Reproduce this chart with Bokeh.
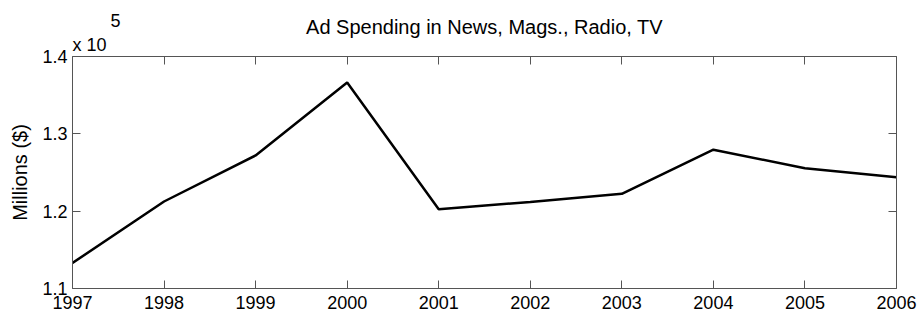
from bokeh.plotting import figure
from bokeh.models import Range1d, FixedTicker, LinearAxis, Label, ColumnDataSource
from bokeh.embed import file_html
from bokeh.resources import INLINE

years = [1997, 1998, 1999, 2000, 2001, 2002, 2003, 2004, 2005, 2006]
spending = [113300, 121250, 127200, 136650, 120250, 121200, 122250, 127950, 125550, 124400]

x_ticks = years
y_ticks = [110000, 120000, 130000, 140000]
y_tick_labels = ["1.1", "1.2", "1.3", "1.4"]

title_text = "Ad Spending in News, Mags., Radio, TV"
y_label = "Millions ($)"

FONT = "Liberation Sans"
AX = "#555555"

p = figure(width=921, height=320, output_backend="svg", toolbar_location=None,
           x_range=Range1d(1997, 2006), y_range=Range1d(110000, 140000),
           min_border_left=72, min_border_right=25, min_border_top=56, min_border_bottom=32)
p.background_fill_color = "white"
p.border_fill_color = "white"
p.outline_line_color = None
p.grid.visible = False

src = ColumnDataSource(dict(x=years, y=spending))
p.line("x", "y", source=src, line_color="black", line_width=2.5)

def style(ax):
    ax.axis_line_color = AX
    ax.major_tick_line_color = AX
    ax.minor_tick_line_color = None
    ax.major_tick_in = 8
    ax.major_tick_out = 0
    ax.major_label_text_font = FONT
    ax.major_label_text_color = "black"
    ax.major_label_text_font_size = "18px"
    ax.major_label_standoff = 5

xa = p.xaxis[0]
xa.ticker = FixedTicker(ticks=x_ticks)
style(xa)
xa.major_label_standoff = 7

ya = p.yaxis[0]
ya.ticker = FixedTicker(ticks=y_ticks)
ya.major_label_overrides = {t: l for t, l in zip(y_ticks, y_tick_labels)}
style(ya)
ya.axis_label = y_label
ya.axis_label_text_font = FONT
ya.axis_label_text_color = "black"
ya.axis_label_text_font_style = "normal"
ya.axis_label_text_font_size = "20px"
ya.axis_label_standoff = 8

top = LinearAxis(ticker=FixedTicker(ticks=x_ticks))
style(top)
top.major_label_overrides = {t: "" for t in x_ticks}
p.add_layout(top, "above")
right = LinearAxis(ticker=FixedTicker(ticks=y_ticks))
style(right)
right.major_label_overrides = {t: "" for t in y_ticks}
p.add_layout(right, "right")

p.add_layout(Label(x=412, y=30, x_units="screen", y_units="screen", text=title_text,
                   text_font=FONT, text_font_size="20px", text_align="center",
                   text_baseline="alphabetic", text_color="black"), "above")
p.add_layout(Label(x=0, y=-10, x_units="screen", y_units="screen", text="x 10",
                   text_font=FONT, text_font_size="18px", text_align="left",
                   text_baseline="alphabetic", text_color="black"), "above")
p.add_layout(Label(x=38, y=-6, x_units="screen", y_units="screen", text="5",
                   text_font=FONT, text_font_size="18px", text_align="left",
                   text_baseline="alphabetic", text_color="black"), "above")

open("out.html", "w").write(file_html(p, INLINE))
